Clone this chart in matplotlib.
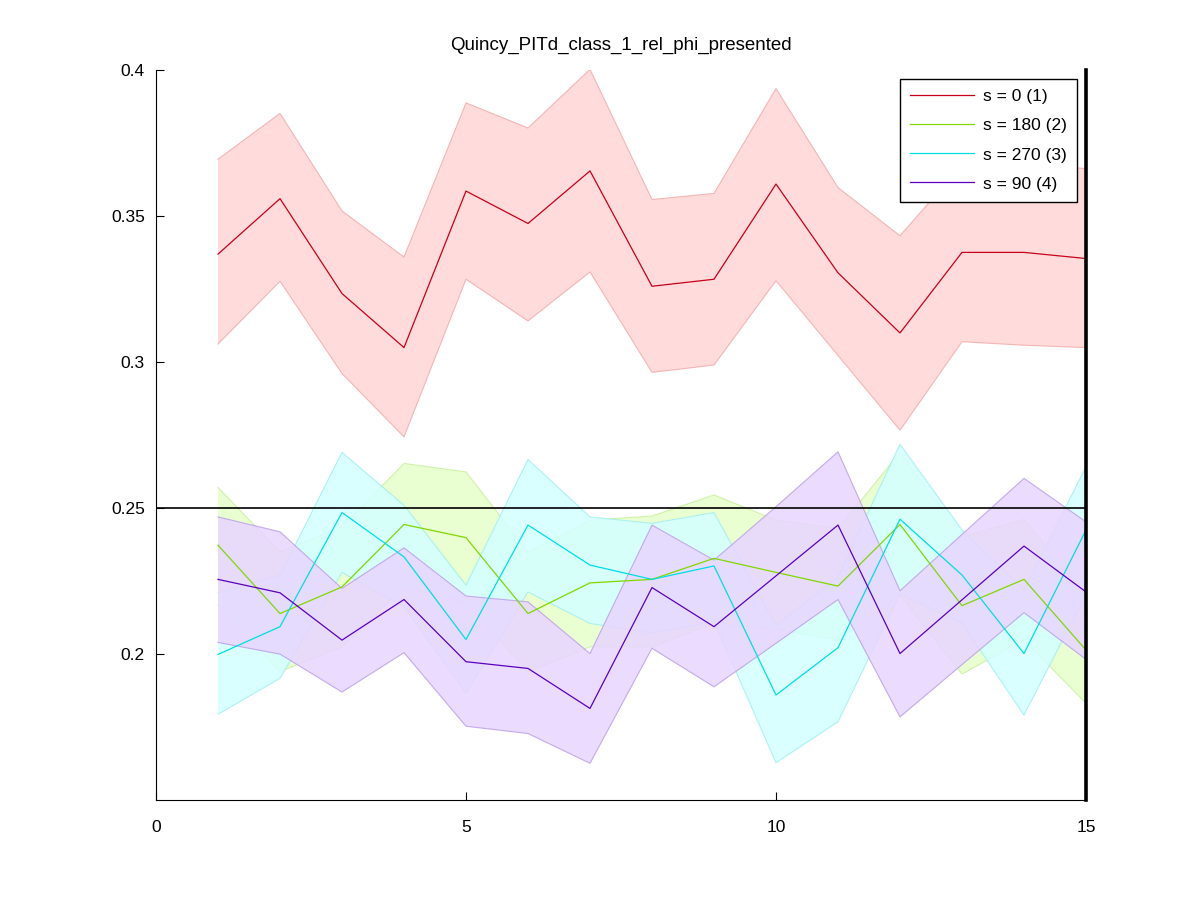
import matplotlib.pyplot as plt
import numpy as np

plt.rcParams['font.family'] = ['Liberation Sans', 'DejaVu Sans']

# trial index
x = np.arange(1, 16)

# s = 0 (1)
red_mean = [0.337, 0.356, 0.3235, 0.305, 0.3586, 0.3475, 0.3655, 0.326, 0.3284, 0.361, 0.3306, 0.310, 0.3376, 0.3376, 0.3355]
red_hi = [0.3695, 0.3852, 0.3518, 0.336, 0.3888, 0.3802, 0.4003, 0.3557, 0.3578, 0.3937, 0.3598, 0.3433, 0.3675, 0.368, 0.3663]
red_lo = [0.3062, 0.3277, 0.2961, 0.2744, 0.3284, 0.3141, 0.3309, 0.2965, 0.299, 0.3279, 0.3023, 0.2767, 0.307, 0.3058, 0.305]

# s = 180 (2)
green_mean = [0.2373, 0.2139, 0.223, 0.2444, 0.2399, 0.2139, 0.2244, 0.2256, 0.2328, 0.228, 0.2233, 0.2444, 0.2166, 0.2256, 0.2014]
green_hi = [0.2571, 0.235, 0.2436, 0.2653, 0.2624, 0.235, 0.2459, 0.2473, 0.2545, 0.2459, 0.243, 0.269, 0.2402, 0.2461, 0.2196]
green_lo = [0.2168, 0.194, 0.2025, 0.223, 0.2175, 0.194, 0.2025, 0.2025, 0.2105, 0.2086, 0.2048, 0.2202, 0.1932, 0.2048, 0.1832]

# s = 270 (3)
cyan_mean = [0.1999, 0.2094, 0.2485, 0.2333, 0.205, 0.2442, 0.2305, 0.2256, 0.2302, 0.186, 0.2022, 0.2462, 0.2271, 0.2002, 0.2425]
cyan_hi = [0.221, 0.2271, 0.2691, 0.251, 0.2236, 0.2667, 0.247, 0.2448, 0.2485, 0.2099, 0.2265, 0.2719, 0.2425, 0.222, 0.2642]
cyan_lo = [0.1794, 0.1917, 0.228, 0.2162, 0.1866, 0.2213, 0.2105, 0.2072, 0.2111, 0.1628, 0.1768, 0.2208, 0.2106, 0.1791, 0.2205]

# s = 90 (4)
purple_mean = [0.2256, 0.221, 0.2048, 0.2187, 0.1974, 0.1951, 0.1814, 0.2228, 0.2094, 0.2268, 0.2442, 0.2002, 0.2186, 0.237, 0.2213]
purple_hi = [0.247, 0.2419, 0.2225, 0.2364, 0.2199, 0.2179, 0.2002, 0.2442, 0.2322, 0.2505, 0.2693, 0.2217, 0.241, 0.2602, 0.2453]
purple_lo = [0.204, 0.200, 0.187, 0.2005, 0.1753, 0.1728, 0.1626, 0.202, 0.1888, 0.2037, 0.2187, 0.1785, 0.1964, 0.2142, 0.1982]

labels = ['s = 0 (1)', 's = 180 (2)', 's = 270 (3)', 's = 90 (4)']
means = [red_mean, green_mean, cyan_mean, purple_mean]
his = [red_hi, green_hi, cyan_hi, purple_hi]
los = [red_lo, green_lo, cyan_lo, purple_lo]
fill_cols = ['#ffd6d6', '#e6ffcc', '#d4ffff', '#e8d6ff']
edge_cols = ['#f0a8a8', '#c8ee9a', '#9eeeee', '#b89ae8']
line_cols = ['#c8001a', '#80d800', '#00dde6', '#5a00c0']

fig = plt.figure(figsize=(12, 9), dpi=100)
ax = fig.add_axes([0.13, 0.111, 0.775, 0.811])

# bands first, in legend order, each mostly covering the previous
for i, (m, hi, lo) in enumerate(zip(means, his, los)):
    ax.fill_between(x, lo, hi, facecolor=fill_cols[i], edgecolor='none', alpha=0.88, zorder=1 + 0.1 * i)
    ax.plot(x, hi, color=edge_cols[i], linewidth=0.8, alpha=0.8, zorder=1.05 + 0.1 * i)
    ax.plot(x, lo, color=edge_cols[i], linewidth=0.8, alpha=0.8, zorder=1.05 + 0.1 * i)

# mean lines on top
for m, lc, lab in zip(means, line_cols, labels):
    ax.plot(x, m, color=lc, linewidth=0.9, label=lab, zorder=3)

# chance level and right boundary
ax.axhline(0.25, color='k', linewidth=1.2, zorder=2)
ax.axvline(15, color='k', linewidth=2.6, clip_on=False, zorder=4)

ax.set_xlim(0, 15)
ax.set_ylim(0.15, 0.4)
ax.set_xticks([0, 5, 10, 15])
ax.set_yticks([0.2, 0.25, 0.3, 0.35, 0.4])
ax.set_yticklabels(['0.2', '0.25', '0.3', '0.35', '0.4'])
ax.tick_params(direction='in', length=6, labelsize=12.5)
ax.tick_params(axis='x', pad=14)
ax.tick_params(axis='y', pad=8)
ax.spines['top'].set_visible(False)
ax.spines['right'].set_visible(False)

ax.set_title('Quincy_PITd_class_1_rel_phi_presented', fontsize=13.5, pad=15)

leg = ax.legend(loc='upper right', fontsize=12.5, handlelength=3.7, handletextpad=0.5,
                fancybox=False, framealpha=1, edgecolor='k', borderaxespad=0.5,
                labelspacing=0.8, borderpad=0.6)
leg.get_frame().set_linewidth(1)
leg.set_zorder(5)

fig.savefig('out.png', dpi=100)
